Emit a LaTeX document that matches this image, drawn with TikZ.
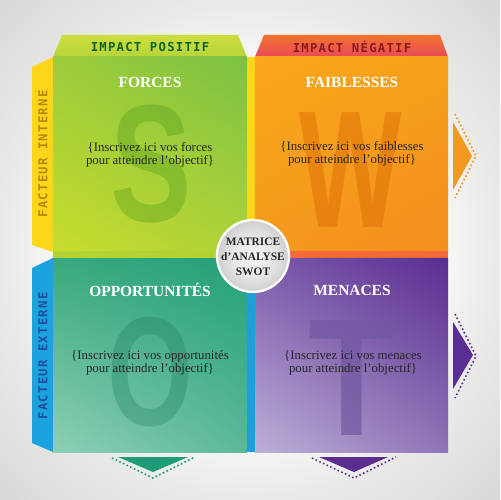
\documentclass[tikz,border=0pt]{standalone}
\usepackage{fontspec}
\setmainfont{Liberation Serif}
\newfontfamily\tabfont[LetterSpace=10]{DejaVu Sans Mono}
\newfontfamily\bigfont{Liberation Sans}
\usetikzlibrary{shadings}
\definecolor{bgout}{HTML}{D8D8D6}
\definecolor{bgmid}{HTML}{EAEAE8}
\definecolor{posTop}{HTML}{CCDE3E}
\definecolor{posBot}{HTML}{B6D43A}
\definecolor{negTop}{HTML}{F3732A}
\definecolor{negBot}{HTML}{E9485A}
\definecolor{yelTab}{HTML}{FCD61A}
\definecolor{bluTab}{HTML}{1CA3DE}
\definecolor{posTxt}{HTML}{12602A}
\definecolor{negTxt}{HTML}{8A1A1E}
\definecolor{intTxt}{HTML}{B48A0C}
\definecolor{extTxt}{HTML}{1D4F9C}
\definecolor{stripY}{HTML}{FDD617}
\definecolor{stripG}{HTML}{B3D335}
\definecolor{stripR}{HTML}{F26A3A}
\definecolor{stripB}{HTML}{1AA0DC}
\definecolor{arrO}{HTML}{F39A1E}
\definecolor{arrP}{HTML}{5C2D91}
\definecolor{arrT}{HTML}{1E9C7A}
\definecolor{discin}{HTML}{F4F4F4}
\definecolor{discout}{HTML}{CFCFCF}
\definecolor{bodyTxt}{HTML}{262626}
% quadrant corner colours
\definecolor{fUL}{HTML}{9DCC3A}\definecolor{fUR}{HTML}{7CC243}
\definecolor{fLL}{HTML}{C8DC2C}\definecolor{fLR}{HTML}{AED23A}
\definecolor{wUL}{HTML}{F9A71B}\definecolor{wUR}{HTML}{F7A01B}
\definecolor{wLL}{HTML}{F59A1C}\definecolor{wLR}{HTML}{F38E1E}
\definecolor{oUL}{HTML}{3AA97C}\definecolor{oUR}{HTML}{22A07A}
\definecolor{oLL}{HTML}{8ED0B6}\definecolor{oLR}{HTML}{5CB899}
\definecolor{tUL}{HTML}{7D5BAB}\definecolor{tUR}{HTML}{5A2D91}
\definecolor{tLL}{HTML}{BCB0D8}\definecolor{tLR}{HTML}{8E74B6}
% letter colours
\definecolor{sCol}{HTML}{4F9A1A}
\definecolor{wCol}{HTML}{D96A00}
\definecolor{oCol}{HTML}{1A7A5A}
\definecolor{tCol}{HTML}{7058A0}
\pgfdeclareradialshading{bgshade}{\pgfpoint{0bp}{0bp}}{color(0bp)=(white); color(11bp)=(white); color(17.5bp)=(bgmid); color(25bp)=(bgout); color(50bp)=(bgout)}
\pgfdeclareradialshading{discshade}{\pgfpoint{0bp}{0bp}}{color(0bp)=(discin); color(14bp)=(discin!65!discout); color(25bp)=(discout); color(50bp)=(discout)}
\begin{document}
\begin{tikzpicture}[x=0.02cm,y=-0.02cm,
  tabtxt/.style={font=\tabfont\bfseries\fontsize{7}{8}\selectfont, inner sep=0pt},
  headtxt/.style={font=\bfseries\fontsize{8.8}{10}\selectfont, text=white, inner sep=0pt},
  bodytxt/.style={font=\fontsize{7.3}{7.5}\selectfont, text=bodyTxt, align=center, inner sep=0pt},
  bigletter/.style={font=\bigfont\bfseries\fontsize{95}{95}\selectfont, inner sep=0pt, anchor=base},
  dotline/.style={line width=0.9pt, dash pattern=on 0.9pt off 1.4pt}]
\useasboundingbox (0,0) rectangle (500,500);
\begin{scope}
\clip (0,0) rectangle (500,500);
\fill[bgout] (0,0) rectangle (500,500);
\shade[shading=bgshade] (250,250) circle (354);
\end{scope}

% top tabs
\shade[top color=posTop, bottom color=posBot] (62,35) -- (238,35) -- (247,57) -- (53,57) -- cycle;
\shade[top color=negTop, bottom color=negBot] (264,35) -- (440,35) -- (448,57) -- (255,57) -- cycle;
% side tabs
\fill[yelTab] (32,67) -- (53,57) -- (53,252) -- (32,245) -- cycle;
\fill[bluTab] (32,268) -- (53,258) -- (53,452) -- (32,443) -- cycle;

% quadrants
\shade[upper left=fUL, upper right=fUR, lower left=fLL, lower right=fLR] (53,57) rectangle (247,251);
\shade[upper left=wUL, upper right=wUR, lower left=wLL, lower right=wLR] (255,57) rectangle (448,251);
\shade[upper left=oUL, upper right=oUR, lower left=oLL, lower right=oLR] (53,258) rectangle (247,452);
\shade[upper left=tUL, upper right=tUR, lower left=tLL, lower right=tLR] (255,258) rectangle (448,452);
% strips
\fill[stripY] (247,57) rectangle (255,251);
\fill[stripG] (53,251) rectangle (247,258);
\fill[stripR] (255,251) rectangle (448,258);
\fill[stripB] (247,258) rectangle (255,452);

% big letters
\node[bigletter, text=sCol, text opacity=0.35, xscale=0.73] (bigS) at (151,221) {S};
\node[bigletter, text=wCol, text opacity=0.45, xscale=0.65] (bigW) at (351,227) {W};
\node[bigletter, text=oCol, text opacity=0.30, xscale=0.66, yscale=0.93] (bigO) at (150,425) {O};
\node[bigletter, text=tCol, text opacity=0.70, xscale=0.85] (bigT) at (352,435) {T};

% arrows
\fill[arrO] (453,122) -- (472,156) -- (453,190) -- cycle;
\draw[arrO, dotline] (455,114) -- (476,156) -- (455,198);
\fill[arrP] (453,322) -- (473,355) -- (453,389) -- cycle;
\draw[arrP, dotline] (455,314) -- (476,356) -- (455,398);
\fill[arrT] (118,457) -- (188,457) -- (153,472) -- cycle;
\draw[arrT, dotline] (112,458) -- (153,478) -- (195,457);
\fill[arrP] (319,457) -- (388,457) -- (354,472) -- cycle;
\draw[arrP, dotline] (312,458) -- (354,478) -- (396,457);

% tab texts
\node[tabtxt, text=posTxt] (tpos) at (150,47) {IMPACT POSITIF};
\node[tabtxt, text=negTxt] (tneg) at (352,47) {IMPACT NÉGATIF};
\node[tabtxt, text=intTxt, rotate=90] (tint) at (43,154) {FACTEUR INTERNE};
\node[tabtxt, text=extTxt, rotate=90] (text) at (43,356) {FACTEUR EXTERNE};

% headings
\node[headtxt] (hS) at (150,82) {FORCES};
\node[headtxt] (hW) at (352,82) {FAIBLESSES};
\node[headtxt] (hO) at (150,290) {OPPORTUNITÉS};
\node[headtxt] (hT) at (352,290) {MENACES};

% body
\node[bodytxt] (bS) at (150,155) {\{Inscrivez ici vos forces\\pour atteindre l’objectif\}};
\node[bodytxt] (bW) at (352,154) {\{Inscrivez ici vos faiblesses\\pour atteindre l’objectif\}};
\node[bodytxt] (bO) at (150,363) {\{Inscrivez ici vos opportunités\\pour atteindre l’objectif\}};
\node[bodytxt] (bT) at (353,363) {\{Inscrivez ici vos menaces\\pour atteindre l’objectif\}};

% centre disc
\node[circle, minimum size=1.44cm, inner sep=0pt, shading=discshade, draw=white, line width=1.3pt] (disc) at (253,256) {};
\node[font=\bfseries\fontsize{6.5}{8.5}\selectfont, align=center, text=bodyTxt, inner sep=0pt] (dtxt) at (253,257) {MATRICE\\d’ANALYSE\\SWOT};
\end{tikzpicture}
\end{document}
